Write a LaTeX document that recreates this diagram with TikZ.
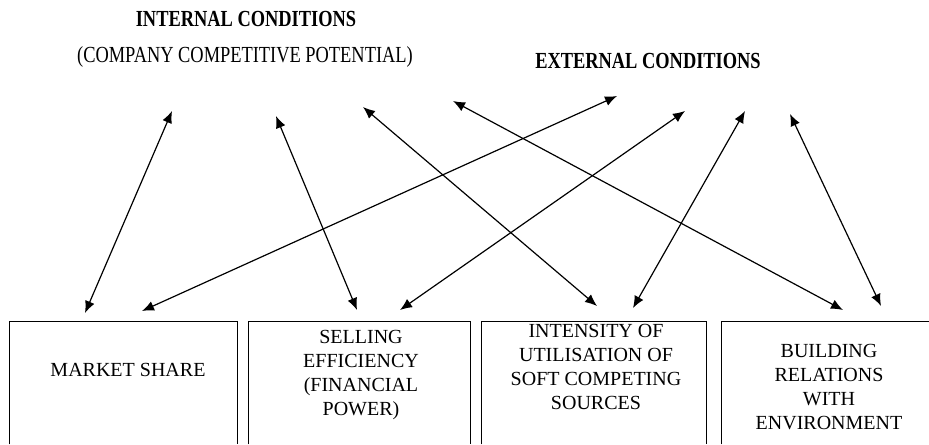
\documentclass[tikz,border=0pt]{standalone}
\usepackage{fontspec}
\setmainfont{Liberation Serif}
\usetikzlibrary{arrows.meta}

\newcommand{\narrow}[1]{\scalebox{0.8}[1]{#1}}

\begin{document}
\begin{tikzpicture}[x=0.5pt,y=-0.5pt,
  head/.style={font=\fontsize{11.5}{13}\selectfont\bfseries, inner sep=0pt},
  sub/.style={font=\fontsize{11.5}{13}\selectfont, inner sep=0pt},
  frame/.style={inner sep=0pt, minimum height=61pt},
  boxtext/.style={align=center, font=\fontsize{10}{12}\selectfont, inner sep=0pt},
  link/.style={{Latex[length=6pt,width=5pt]}-{Latex[length=6pt,width=5pt]}, line width=0.6pt}]
 \useasboundingbox (0,0) rectangle (929,444);

 \node[head] (int) at (246,19) {\narrow{INTERNAL CONDITIONS}};
 \node[sub] (pot) at (245,57) {\narrow{(COMPANY COMPETITIVE POTENTIAL)}};
 \node[head] (ext) at (648,61) {\narrow{EXTERNAL CONDITIONS}};

 % frames, open at the bottom
 \node[frame, minimum width=113.5pt] (ms) at (123.5,383) {};
 \node[frame, minimum width=110.5pt] (se) at (359.5,383) {};
 \node[frame, minimum width=112pt] (in) at (594,383) {};
 \node[frame, minimum width=103.5pt] (br) at (825.5,383) {};
 \draw[line width=0.8pt] (ms.south west) |- (ms.north east) -- (ms.south east);
 \draw[line width=0.8pt] (se.south west) |- (se.north east) -- (se.south east);
 \draw[line width=0.8pt] (in.south west) |- (in.north east) -- (in.south east);
 \draw[line width=0.8pt] (br.south west) |- (br.north east);

 \node[boxtext] (mstxt) at (128,370) {MARKET SHARE};
 \node[boxtext] (setxt) at (361,375) {SELLING\\EFFICIENCY\\(FINANCIAL\\POWER)};
 \node[boxtext] (intxt) at (596,367) {INTENSITY OF\\UTILISATION OF\\SOFT COMPETING\\SOURCES};
 \node[boxtext] (brtxt) at (829,387) {BUILDING\\RELATIONS\\WITH\\ENVIRONMENT};

 % arrow ends
 \coordinate (i1) at (172,111);
 \coordinate (i2) at (276,116);
 \coordinate (i3) at (363,107);
 \coordinate (i4) at (453,101);
 \coordinate (e1) at (617,96);
 \coordinate (e2) at (685,111);
 \coordinate (e3) at (745,111);
 \coordinate (e4) at (790,114);
 \coordinate (ms-a) at (85,313);
 \coordinate (ms-b) at (142,311);
 \coordinate (se-a) at (357,310);
 \coordinate (se-b) at (400,310);
 \coordinate (in-a) at (597,306);
 \coordinate (in-b) at (633,308);
 \coordinate (br-a) at (843,310);
 \coordinate (br-b) at (881,306);

 \draw[link] (ms-a) -- (i1);
 \draw[link] (ms-b) -- (e1);
 \draw[link] (se-a) -- (i2);
 \draw[link] (se-b) -- (e2);
 \draw[link] (in-a) -- (i3);
 \draw[link] (in-b) -- (e3);
 \draw[link] (br-a) -- (i4);
 \draw[link] (br-b) -- (e4);

\end{tikzpicture}
\end{document}
